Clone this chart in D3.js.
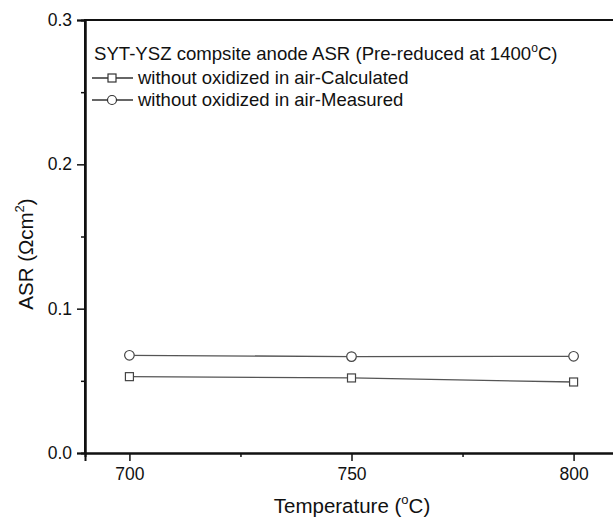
<!DOCTYPE html>
<html><head><meta charset="utf-8">
<script src="https://cdn.jsdelivr.net/npm/d3@7"></script>
<style>body{margin:0;background:#fff;} text{font-family:"Liberation Sans",Arial,sans-serif;fill:#111;}</style>
</head><body>
<svg id="c" width="613" height="519"></svg>
<script>
const temperatures = [700, 750, 800];
const calculated = [0.0529, 0.0520, 0.0492];
const measured = [0.0677, 0.0668, 0.0670];
const xTicks = [700, 750, 800];
const xMinorTicks = [725, 775];
const yTicks = [0.0, 0.1, 0.2, 0.3];
const yMinorTicks = [0.05, 0.15, 0.25];
const legendTitle = "SYT-YSZ compsite anode ASR (Pre-reduced at 1400";
const seriesNames = ["without oxidized in air-Calculated", "without oxidized in air-Measured"];

const svg = d3.select("#c");
const L = 85, R = 618, T = 20, B = 453;
const x = d3.scaleLinear().domain([690, 810]).range([L, R]);
const y = d3.scaleLinear().domain([0, 0.3]).range([B, T]);

svg.append("path").attr("d", `M${L},${B}V${T}H${R}`).attr("fill","none").attr("stroke","#111").attr("stroke-width",2);

svg.append("g").attr("transform",`translate(0,${B})`)
  .call(d3.axisBottom(x).tickValues(xTicks).tickFormat(d3.format("d")).tickSize(8).tickPadding(7));
svg.append("g").attr("transform",`translate(0,${B})`)
  .call(d3.axisBottom(x).tickValues(xMinorTicks).tickFormat("").tickSize(4));
svg.append("g").attr("transform",`translate(${L},0)`)
  .call(d3.axisLeft(y).tickValues(yTicks).tickFormat(d3.format(".1f")).tickSize(8).tickPadding(5));
svg.append("g").attr("transform",`translate(${L},0)`)
  .call(d3.axisLeft(y).tickValues(yMinorTicks).tickFormat("").tickSize(4));
svg.selectAll(".domain").attr("stroke","#111").attr("stroke-width",2);
svg.selectAll(".tick line").attr("stroke","#111").attr("stroke-width",1.5);
svg.selectAll(".tick text").attr("font-size",17.5).attr("fill","#111").attr("font-family","Liberation Sans, Arial, sans-serif");

const line = d3.line().x((d,i)=>x(temperatures[i])).y(d=>y(d));
const lineColor = "#555";
svg.append("path").datum(calculated).attr("d",line).attr("fill","none").attr("stroke",lineColor).attr("stroke-width",1.3);
svg.append("path").datum(measured).attr("d",line).attr("fill","none").attr("stroke",lineColor).attr("stroke-width",1.3);

svg.selectAll(".sq").data(calculated).enter().append("rect")
  .attr("x",(d,i)=>x(temperatures[i])-4).attr("y",d=>y(d)-4).attr("width",8).attr("height",8)
  .attr("fill","#fff").attr("stroke","#444").attr("stroke-width",1.2);
svg.selectAll(".ci").data(measured).enter().append("circle")
  .attr("cx",(d,i)=>x(temperatures[i])).attr("cy",d=>y(d)).attr("r",4.8)
  .attr("fill","#fff").attr("stroke","#444").attr("stroke-width",1.2);

const lg = svg.append("g");
const tt = lg.append("text").attr("x",94).attr("y",60).attr("font-size",18.6);
tt.append("tspan").text(legendTitle);
tt.append("tspan").text("o").attr("font-size",12).attr("dy",-8);
tt.append("tspan").text("C)").attr("dy",8);
const rows = [84, 106];
rows.forEach((ry,i)=>{
  lg.append("line").attr("x1",92).attr("x2",133).attr("y1",ry-6).attr("y2",ry-6).attr("stroke","#333").attr("stroke-width",1.3);
  if(i===0) lg.append("rect").attr("x",108).attr("y",ry-10).attr("width",8).attr("height",8).attr("fill","#fff").attr("stroke","#333").attr("stroke-width",1.2);
  else lg.append("circle").attr("cx",112).attr("cy",ry-6).attr("r",4.5).attr("fill","#fff").attr("stroke","#333").attr("stroke-width",1.2);
  lg.append("text").attr("x",138).attr("y",ry).attr("font-size",18.5).text(seriesNames[i]);
});

const xt = svg.append("text").attr("x",352).attr("y",513).attr("text-anchor","middle").attr("font-size",20.5);
xt.append("tspan").text("Temperature (");
xt.append("tspan").text("o").attr("font-size",13).attr("dy",-9);
xt.append("tspan").text("C)").attr("dy",9);
const yt = svg.append("text").attr("transform","translate(33,254) rotate(-90)").attr("text-anchor","middle").attr("font-size",20.5);
yt.append("tspan").text("ASR (Ωcm");
yt.append("tspan").text("2").attr("font-size",13).attr("dy",-9);
yt.append("tspan").text(")").attr("dy",9);
</script>
</body></html>
